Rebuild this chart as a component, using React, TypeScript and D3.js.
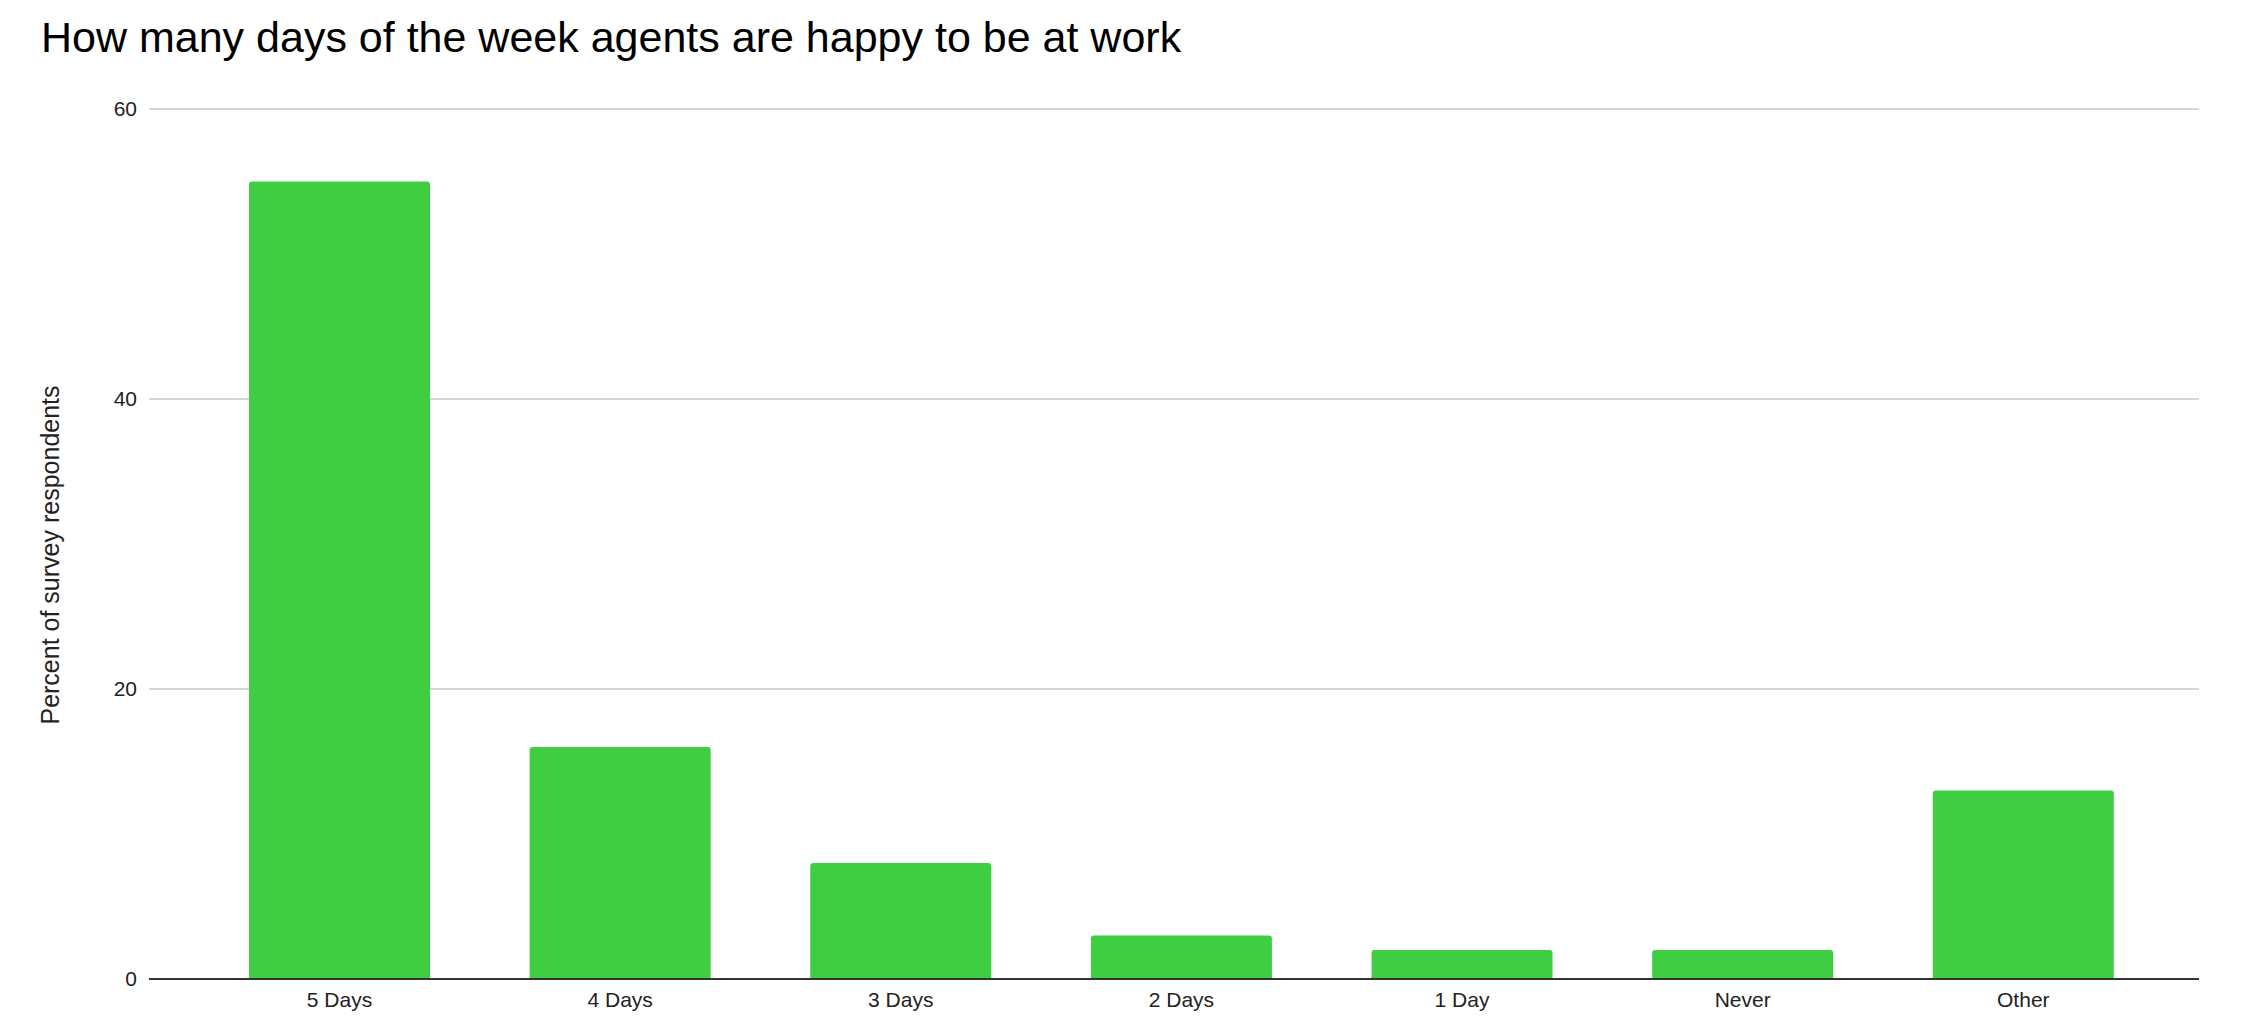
import React from "react";
import * as d3 from "d3";

const categories: string[] = ["5 Days", "4 Days", "3 Days", "2 Days", "1 Day", "Never", "Other"];
const values: number[] = [55, 16, 8, 3, 2, 2, 13];
const yTicks: number[] = [0, 20, 40, 60];

const TITLE = "How many days of the week agents are happy to be at work";
const Y_LABEL = "Percent of survey respondents";

const W = 2242;
const H = 1020;
const plotLeft = 149;
const plotRight = 2199;
const plotTop = 109;
const plotBottom = 979;
const FONT = "'Liberation Sans', Arial, Helvetica, sans-serif";
const BAR_COLOR = "#3fce42";

function topRoundedRect(x: number, y: number, w: number, h: number, r: number): string {
  const rr = Math.min(r, h, w / 2);
  const p = d3.path();
  p.moveTo(x, y + h);
  p.lineTo(x, y + rr);
  p.quadraticCurveTo(x, y, x + rr, y);
  p.lineTo(x + w - rr, y);
  p.quadraticCurveTo(x + w, y, x + w, y + rr);
  p.lineTo(x + w, y + h);
  p.closePath();
  return p.toString();
}

export default function App() {
  const x = d3
    .scaleBand<string>()
    .domain(categories)
    .range([plotLeft, plotRight])
    .paddingInner(0.355)
    .paddingOuter(0.33)
    .align(0.54);
  const y = d3.scaleLinear().domain([0, 60]).range([plotBottom, plotTop]);

  return (
    <svg
      width={W}
      height={H}
      style={{ position: "absolute", left: 0, top: 0, background: "#fff" }}
      fontFamily={FONT}
    >
      <rect x={0} y={0} width={W} height={H} fill="#fff" />
      <text x={41} y={52} fontSize={43} fill="#000">
        {TITLE}
      </text>

      {yTicks.map((t) => (
        <g key={t}>
          {t !== 0 && (
            <line x1={plotLeft} x2={plotRight} y1={y(t)} y2={y(t)} stroke="#d6d6d6" strokeWidth={2} />
          )}
          <text x={137} y={y(t) + 7} fontSize={21} textAnchor="end" fill="#222">
            {t}
          </text>
        </g>
      ))}

      {categories.map((c, i) => {
        const bx = x(c) as number;
        const by = y(values[i]);
        return (
          <path
            key={c}
            d={topRoundedRect(bx, by, x.bandwidth(), plotBottom - by, 3)}
            fill={BAR_COLOR}
          />
        );
      })}

      <line x1={plotLeft} x2={plotRight} y1={plotBottom} y2={plotBottom} stroke="#333" strokeWidth={2} />

      {categories.map((c) => (
        <text
          key={c}
          x={(x(c) as number) + x.bandwidth() / 2}
          y={1007}
          fontSize={21}
          textAnchor="middle"
          fill="#222"
        >
          {c}
        </text>
      ))}

      <text
        transform={`translate(59, ${(383 + 727) / 2}) rotate(-90)`}
        fontSize={25}
        textAnchor="middle"
        fill="#222"
      >
        {Y_LABEL}
      </text>
    </svg>
  );
}
